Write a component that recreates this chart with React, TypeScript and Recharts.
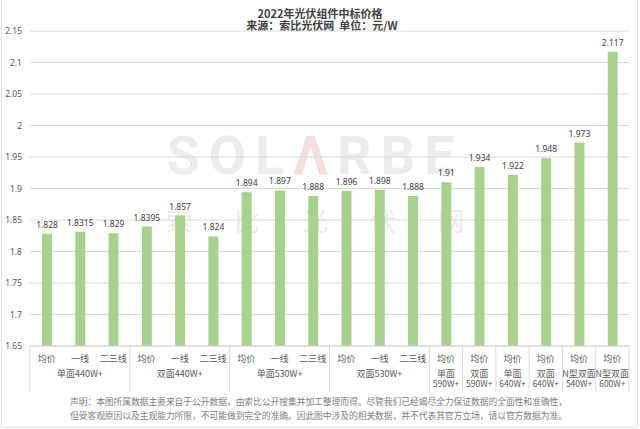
import { Bar, BarChart, CartesianGrid, LabelList, XAxis, YAxis } from "recharts"

// 18 bars, one per tier
const tiers = ['均价', '一线', '二三线', '均价', '一线', '二三线', '均价', '一线', '二三线', '均价', '一线', '二三线', '均价', '均价', '均价', '均价', '均价', '均价']
const prices = [1.828, 1.8315, 1.829, 1.8395, 1.857, 1.824, 1.894, 1.897, 1.888, 1.896, 1.898, 1.888, 1.91, 1.934, 1.922, 1.948, 1.973, 2.117]

// second level of the category axis
const groupLabels = [['单面440W+'], ['双面440W+'], ['单面530W+'], ['双面530W+'], ['单面', '590W+'], ['双面', '590W+'], ['单面', '640W+'], ['双面', '640W+'], ['N型双面', '540W+'], ['N型双面', '600W+']]
const groupSizes = [3, 3, 3, 3, 1, 1, 1, 1, 1, 1]

const yTicks = [1.65, 1.7, 1.75, 1.8, 1.85, 1.9, 1.95, 2, 2.05, 2.1, 2.15]

const title = '2022年光伏组件中标价格'
const subtitle = '来源：索比光伏网  单位：元/W'
const notes = [
  '声明：本图所属数据主要来自于公开数据，由索比公开搜集并加工整理而得。尽管我们已经竭尽全力保证数据的全面性和准确性，',
  '但受客观原因以及主观能力所限，不可能做到完全的准确。因此图中涉及的相关数据，并不代表其官方立场，请以官方数据为准。',
]

const data = prices.map((p, i) => ({ id: 'c' + i, price: p }))

const AXIS_Y = 346
const CJK = '"Noto Sans CJK SC", "Noto Sans", sans-serif'
const NUM = '"Noto Sans", "Open Sans", sans-serif'

function CategoryTick(props: any) {
  const { x, index, payload } = props
  const half = payload && payload.offset ? payload.offset : 16.6
  let start = 0
  let g = 0
  while (g < groupSizes.length && start + groupSizes[g] <= index) {
    start += groupSizes[g]
    g++
  }
  const size = groupSizes[g]
  const isStart = index === start
  const isMiddle = index === start + Math.floor(size / 2)
  const isLast = index === prices.length - 1
  const lines = groupLabels[g] || []
  return (
    <g>
      <text x={x} y={AXIS_Y + 15.5} textAnchor="middle" fontSize={9} fill="#595959" fontFamily={CJK}>
        {tiers[index]}
      </text>
      {isMiddle && lines.map((l, k) => (
        <text key={k} x={x} y={AXIS_Y + 31 + k * 10} textAnchor="middle" fontSize={k === 0 ? 9 : 8.5} fill="#595959" fontFamily={CJK}>
          {l}
        </text>
      ))}
      {isStart && <line x1={x - half} x2={x - half} y1={AXIS_Y} y2={AXIS_Y + 46} stroke="#d9d9d9" />}
      {isLast && <line x1={x + half} x2={x + half} y1={AXIS_Y} y2={AXIS_Y + 46} stroke="#d9d9d9" />}
    </g>
  )
}

export default function App() {
  return (
    <div style={{ position: 'absolute', left: 0, top: 0, width: 640, height: 429, background: '#fff' }}>
      <svg width={640} height={429} style={{ position: 'absolute', left: 0, top: 0 }}>
        <line x1={1.5} x2={1.5} y1={0} y2={427} stroke="#e3e3e3" />
        <line x1={637.5} x2={637.5} y1={0} y2={427} stroke="#e3e3e3" />
        <line x1={1.5} x2={637.5} y1={427} y2={427} stroke="#e3e3e3" />
        <text x={315} y={174} textAnchor="middle" fontSize={54} fontWeight={700} fill="#ececec" fontFamily='"Roboto", sans-serif' letterSpacing={9}>
          SOL<tspan fill="#f6dede">Λ</tspan>RBE
        </text>
        {['索', '比', '光', '伏', '网'].map((c, i) => (
          <text key={c} x={179 + i * 68} y={231} textAnchor="middle" fontSize={26} fill="#ebebeb" fontFamily={CJK}>
            {c}
          </text>
        ))}
        <text x={320} y={18} textAnchor="middle" fontSize={11} fontWeight={700} fill="#404040" fontFamily={CJK}>
          {title}
        </text>
        <text x={322} y={30} textAnchor="middle" fontSize={11} fontWeight={700} fill="#404040" fontFamily={CJK} xmlSpace="preserve">
          {subtitle}
        </text>
        {notes.map((n, i) => (
          <text key={i} x={70} y={405 + i * 14} fontSize={8.8} fill="#808080" fontFamily={CJK} textLength={497} lengthAdjust="spacing">
            {n}
          </text>
        ))}
      </svg>
      <div style={{ position: 'absolute', left: 0, top: 0 }}>
        <BarChart width={640} height={429} data={data} margin={{ top: 31, right: 11, bottom: 0, left: 0 }}>
          <CartesianGrid vertical={false} stroke="#d9d9d9" />
          <XAxis
            dataKey="id"
            interval={0}
            tick={<CategoryTick />}
            tickLine={false}
            axisLine={{ stroke: '#d9d9d9' }}
            height={83}
          />
          <YAxis
            width={30}
            domain={[1.65, 2.15]}
            ticks={yTicks}
            tickFormatter={(v) => String(Number(v.toFixed(2)))}
            tick={{ fontSize: 8.5, fill: '#595959', fontFamily: NUM }}
            tickSize={0}
            tickMargin={8}
            axisLine={false}
            tickLine={false}
            allowDataOverflow
          />
          <Bar dataKey="price" fill="#a9d18e" barSize={10} isAnimationActive={false}>
            <LabelList dataKey="price" position="top" offset={6} fontSize={8.5} fill="#404040" fontFamily={NUM} />
          </Bar>
        </BarChart>
      </div>
    </div>
  )
}
